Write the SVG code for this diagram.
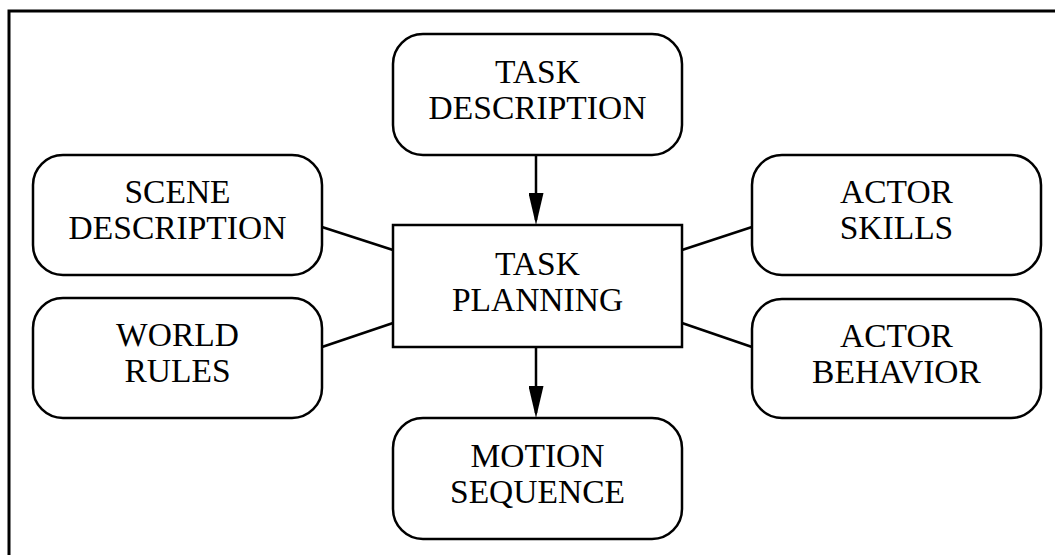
<svg xmlns="http://www.w3.org/2000/svg" width="1055" height="555" viewBox="0 0 1055 555">
<style>
.box{fill:#fff;stroke:#000;stroke-width:2.5}
.lbl{font-family:"Liberation Serif","Times New Roman",serif;font-size:33.5px;fill:#000;text-anchor:middle}
.con{stroke:#000;stroke-width:2.5;fill:none}
</style>
<defs>
<marker id="arr" markerUnits="userSpaceOnUse" markerWidth="32" markerHeight="15" refX="27" refY="7.5" orient="auto" viewBox="0 0 32 15">
<path d="M0,0 L32,7.5 L0,15 Z" fill="#000"/>
</marker>
</defs>
<rect width="1055" height="555" fill="#fff"/>
<path d="M9,555 V11 H1055" fill="none" stroke="#000" stroke-width="3"/>
<g id="connectors">
<line class="con" x1="536" y1="155" x2="536" y2="220" marker-end="url(#arr)"/>
<line class="con" x1="536" y1="347" x2="536" y2="413" marker-end="url(#arr)"/>
<line class="con" x1="322" y1="227" x2="393" y2="250"/>
<line class="con" x1="322" y1="347" x2="393" y2="323"/>
<line class="con" x1="682" y1="250" x2="752" y2="227"/>
<line class="con" x1="682" y1="323" x2="752" y2="347"/>
</g>
<g id="task-description">
<rect class="box" x="393" y="34" width="289" height="121" rx="30"/>
<text class="lbl" x="537.5" y="83">TASK</text>
<text class="lbl" x="537.5" y="119">DESCRIPTION</text>
</g>
<g id="task-planning">
<rect class="box" x="393" y="225" width="289" height="122"/>
<text class="lbl" x="537.5" y="275">TASK</text>
<text class="lbl" x="537.5" y="311">PLANNING</text>
</g>
<g id="motion-sequence">
<rect class="box" x="393" y="418" width="289" height="121" rx="30"/>
<text class="lbl" x="537.5" y="467">MOTION</text>
<text class="lbl" x="537.5" y="503">SEQUENCE</text>
</g>
<g id="scene-description">
<rect class="box" x="33" y="155" width="289" height="120" rx="30"/>
<text class="lbl" x="177.5" y="203">SCENE</text>
<text class="lbl" x="177.5" y="239">DESCRIPTION</text>
</g>
<g id="world-rules">
<rect class="box" x="33" y="298" width="289" height="120" rx="30"/>
<text class="lbl" x="177.5" y="346">WORLD</text>
<text class="lbl" x="177.5" y="382">RULES</text>
</g>
<g id="actor-skills">
<rect class="box" x="752" y="155" width="289" height="120" rx="30"/>
<text class="lbl" x="896.5" y="203">ACTOR</text>
<text class="lbl" x="896.5" y="239">SKILLS</text>
</g>
<g id="actor-behavior">
<rect class="box" x="752" y="299" width="289" height="119" rx="30"/>
<text class="lbl" x="896.5" y="347">ACTOR</text>
<text class="lbl" x="896.5" y="383">BEHAVIOR</text>
</g>
</svg>
